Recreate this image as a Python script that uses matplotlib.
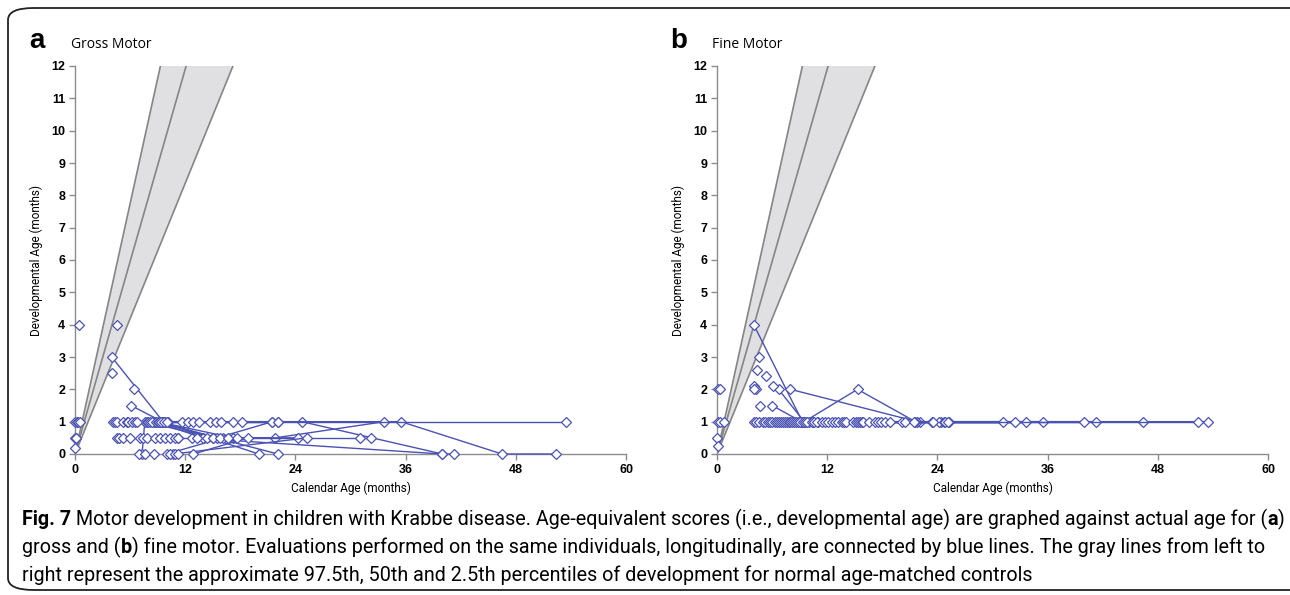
import matplotlib
matplotlib.use("Agg")
import matplotlib.pyplot as plt
import matplotlib.transforms as mtransforms
from matplotlib.patches import FancyBboxPatch
import numpy as np

# ---- data ----
x_ticks = [0, 12, 24, 36, 48, 60]
y_ticks = list(range(0, 13))

# percentile lines: calendar age (months) at which developmental age hits 12
pct_ages_at_12 = [9.3, 12.1, 17.2]   # 97.5th, 50th, 2.5th

# gross motor: longitudinal evaluations (connected)
gross_lines_x = [
    [4.0, 9.6, 24.7, 40.0],
    [6.1, 9.5, 35.5, 46.5, 52.4],
    [9.0, 17.2, 21.8, 33.7],
    [11.2, 31.0, 32.2],
    [12.7, 40.0, 41.3],
    [9.8, 53.5],
    [7.3, 7.6, 15.0],
    [8.6, 22.1],
    [9.3, 20.0],
    [10.0, 16.1, 24.3],
    [10.7, 25.3],
    [12.9, 18.8],
    [8.7, 13.9, 17.6],
    [9.1, 15.5, 21.5],
    [10.1, 14.7, 22.1],
]
gross_lines_y = [
    [3.0, 1.0, 1.0, 0.0],
    [1.5, 1.0, 1.0, 0.0, 0.0],
    [1.0, 0.5, 0.5, 1.0],
    [0.5, 0.5, 0.5],
    [0.5, 0.0, 0.0],
    [1.0, 1.0],
    [0.0, 1.0, 0.5],
    [1.0, 0.0],
    [1.0, 0.0],
    [0.0, 0.5, 0.5],
    [0.0, 0.5],
    [0.0, 0.5],
    [1.0, 0.5, 0.5],
    [1.0, 0.5, 1.0],
    [1.0, 1.0, 1.0],
]
# gross motor: single evaluations
gross_single_x = [0.4, 4.6, 4.0, 6.4, 0.0, 0.1,
                  0.0, 0.2, 0.35, 0.55, 4.1, 4.4, 4.6, 5.2, 5.7, 5.8, 6.2, 6.5, 6.8,
                  7.8, 8.0, 8.2, 8.4, 8.8, 9.0, 9.2, 9.4, 9.7, 10.0, 11.7, 12.3,
                  12.9, 13.5, 15.3, 15.9, 17.2, 18.2, 21.5, 22.1,
                  0.0, 0.15, 4.6, 4.8, 5.2, 6.0, 7.1, 7.4, 7.8, 8.7, 9.3, 9.8, 10.3,
                  10.9, 11.2, 13.3, 14.4, 15.0, 15.8, 16.7,
                  7.0, 7.6, 8.6, 10.3, 10.9, 11.2]
gross_single_y = [4.0, 4.0, 2.5, 2.0, 0.2, 0.5,
                  1, 1, 1, 1, 1, 1, 1, 1, 1, 1, 1, 1, 1,
                  1, 1, 1, 1, 1, 1, 1, 1, 1, 1, 1, 1,
                  1, 1, 1, 1, 1, 1, 1, 1,
                  0.5, 0.5, 0.5, 0.5, 0.5, 0.5, 0.5, 0.5, 0.5, 0.5, 0.5, 0.5, 0.5,
                  0.5, 0.5, 0.5, 0.5, 0.5, 0.5, 0.5,
                  0, 0, 0, 0, 0, 0]

# fine motor: longitudinal evaluations (connected)
fine_lines_x = [
    [4.0, 9.3, 22.1, 53.5],
    [8.0, 21.8, 46.4],
    [6.7, 9.5, 15.3, 21.6, 41.3],
    [6.0, 9.2, 35.5],
    [9.0, 52.4],
    [10.0, 33.7],
    [9.6, 24.4, 40.0],
    [10.4, 25.3, 31.1],
    [11.0, 24.2, 32.4],
]
fine_lines_y = [
    [4.0, 1.0, 1.0, 1.0],
    [2.0, 1.0, 1.0],
    [2.0, 1.0, 2.0, 1.0, 1.0],
    [1.5, 1.0, 1.0],
    [1.0, 1.0],
    [1.0, 1.0],
    [1.0, 1.0, 1.0],
    [1.0, 1.0, 1.0],
    [1.0, 1.0, 1.0],
]
# fine motor: single evaluations
fine_single_x = [0.0, 0.1, 0.1, 0.3, 0.1, 0.3, 0.8,
                 4.6, 4.4, 5.3, 4.0, 4.2, 4.0, 6.1, 4.7,
                 4.0, 4.3, 4.6, 5.0, 5.2, 5.5, 5.8, 6.0, 6.3, 6.5, 6.8, 7.0,
                 7.2, 7.4, 7.6, 7.8, 8.0, 8.2, 8.4, 8.6, 8.8, 9.0, 9.4, 9.6,
                 9.8, 10.3, 10.6, 10.9, 11.4, 11.8, 12.1, 12.5, 12.9, 13.2,
                 13.6, 13.8, 14.0, 14.8, 15.1, 15.4, 15.6, 15.8, 15.9, 16.5,
                 17.2, 17.5, 17.9, 18.3, 18.8, 20.1, 20.5, 21.4, 23.4, 23.5,
                 24.7, 24.8, 25.2]
fine_single_y = [0.5, 0.25, 2.0, 2.0, 1.0, 1.0, 1.0,
                 3.0, 2.6, 2.4, 2.1, 2.0, 2.0, 2.1, 1.5] + [1.0] * 57

# ---- style ----
BLUE = "#4a52b3"
GRAY_LINE = "#858585"
GRAY_FILL = "#e0dfe1"
AXIS_GRAY = "#8c8c8c"
NARROW = ["Roboto", "DejaVu Sans"]

fig = plt.figure(figsize=(12.9, 5.95), dpi=100)
W, H = 1290, 595
renderer = fig.canvas.get_renderer()

# rounded frame around the whole figure
frame = FancyBboxPatch((8 / W, 5 / H), 1.2, 1 - 13 / H,
                       boxstyle="round,pad=0,rounding_size=0.02",
                       transform=fig.transFigure, fill=False,
                       edgecolor="#222222", linewidth=1.3, clip_on=False)
fig.patches.append(frame)


def draw_panel(ax, lines_x, lines_y, single_x, single_y):
    xs = np.array([0.0, 60.0])
    tops = [12.0 / a for a in pct_ages_at_12]
    ax.fill_between(xs, tops[2] * xs, tops[0] * xs, color=GRAY_FILL, lw=0, zorder=1)
    for s in tops:
        ax.plot(xs, s * xs, color=GRAY_LINE, lw=1.2, zorder=2)

    for lx, ly in zip(lines_x, lines_y):
        ax.plot(lx, ly, color=BLUE, lw=1.0, marker="D", ms=5,
                mfc="white", mec=BLUE, mew=0.9, zorder=3, clip_on=False)
    ax.plot(single_x, single_y, ls="none", marker="D", ms=5,
            mfc="white", mec=BLUE, mew=0.9, zorder=4, clip_on=False)

    ax.set_xlim(0, 60)
    ax.set_ylim(0, 12)
    ax.set_xticks(x_ticks)
    ax.set_yticks(y_ticks)
    for sp in ["top", "right"]:
        ax.spines[sp].set_visible(False)
    for sp in ["left", "bottom"]:
        ax.spines[sp].set_color(AXIS_GRAY)
        ax.spines[sp].set_linewidth(1.0)
    ax.tick_params(axis="both", direction="out", length=4, width=1.0,
                   color=AXIS_GRAY, pad=3)
    for lab in ax.get_xticklabels() + ax.get_yticklabels():
        lab.set_fontfamily("Liberation Sans")
        lab.set_fontweight("bold")
        lab.set_fontsize(9)
    ax.set_xlabel("Calendar Age (months)", family=NARROW, fontsize=8.5, labelpad=4)
    ax.set_ylabel("Developmental Age (months)", family=NARROW, fontsize=8.5,
                  labelpad=6)


ax_a = fig.add_axes([75 / W, 1 - 454 / H, 551 / W, 388 / H])
ax_b = fig.add_axes([717 / W, 1 - 454 / H, 551 / W, 388 / H])
draw_panel(ax_a, gross_lines_x, gross_lines_y, gross_single_x, gross_single_y)
draw_panel(ax_b, fine_lines_x, fine_lines_y, fine_single_x, fine_single_y)

# panel letters and titles
fig.text(29 / W, 1 - 48 / H, "a", family="Liberation Sans", fontweight="bold",
         fontsize=20, va="baseline")
fig.text(71 / W, 1 - 48 / H, "Gross Motor", family=["Open Sans", "DejaVu Sans"],
         fontsize=10, va="baseline")
fig.text(670 / W, 1 - 48 / H, "b", family="Liberation Sans", fontweight="bold",
         fontsize=20, va="baseline")
fig.text(712 / W, 1 - 48 / H, "Fine Motor", family=["Open Sans", "DejaVu Sans"],
         fontsize=10, va="baseline")

# caption with mixed bold runs, placed in pixel coordinates
caption_lines = [
    [("Fig. 7", True),
     (" Motor development in children with Krabbe disease. Age-equivalent scores "
      "(i.e., developmental age) are graphed against actual age for (", False),
     ("a", True), (")", False)],
    [("gross and (", False), ("b", True),
     (") fine motor. Evaluations performed on the same individuals, longitudinally, "
      "are connected by blue lines. The gray lines from left to", False)],
    [("right represent the approximate 97.5th, 50th and 2.5th percentiles of "
      "development for normal age-matched controls", False)],
]
caption_baselines = [525, 553, 581]
pix = mtransforms.IdentityTransform()


def draw_runs(runs, x, base, size):
    placed = []
    for s, bold in runs:
        t = fig.text(x, H - base, s, transform=pix, family=NARROW,
                     fontsize=size, fontweight="bold" if bold else "normal",
                     va="baseline", ha="left")
        placed.append(t)
        x = t.get_window_extent(renderer=renderer).x1
    return placed, x


# size the caption so the first line spans the frame width
test, x_end = draw_runs(caption_lines[0], 22, caption_baselines[0], 12.0)
for t in test:
    t.remove()
cap_size = 12.0 * (1281 - 22) / (x_end - 22)

for runs, base in zip(caption_lines, caption_baselines):
    draw_runs(runs, 22, base, cap_size)

fig.savefig("out.png", dpi=100)
